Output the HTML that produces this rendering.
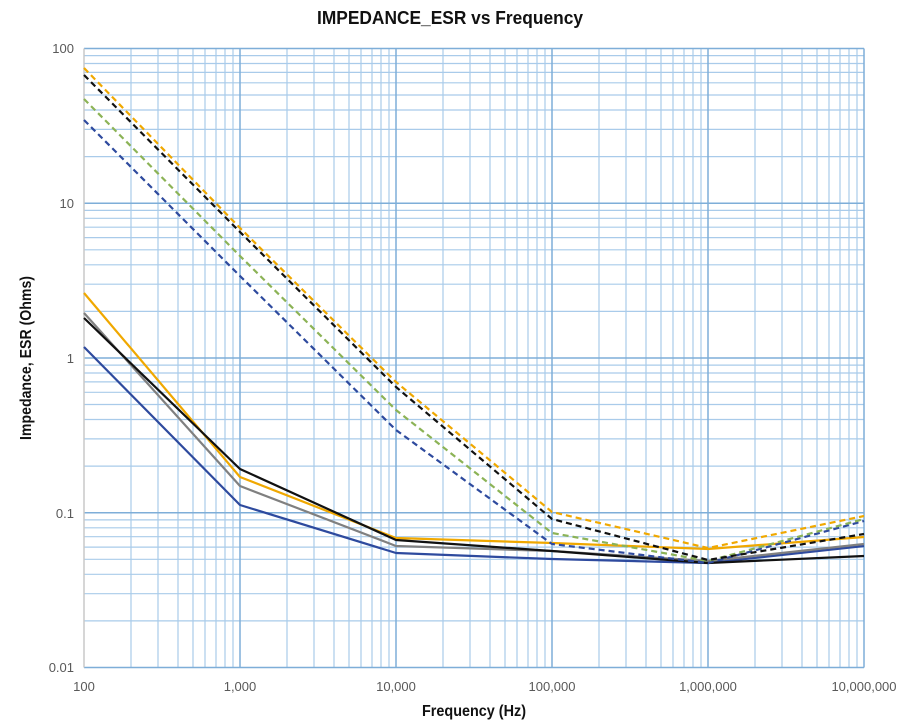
<!DOCTYPE html>
<html><head><meta charset="utf-8"><style>
body{margin:0;background:#fff;}
svg{display:block;font-family:"Liberation Sans",sans-serif;}
</style></head><body>
<svg width="900" height="726" viewBox="0 0 900 726" xmlns="http://www.w3.org/2000/svg">
<text x="450" y="24" text-anchor="middle" font-size="18" font-weight="bold" fill="#111" textLength="266" lengthAdjust="spacingAndGlyphs">IMPEDANCE_ESR vs Frequency</text>
<g stroke="#a9cbea" stroke-width="1.2">
<path d="M131 48.5V667.5M158 48.5V667.5M178 48.5V667.5M193 48.5V667.5M205 48.5V667.5M216 48.5V667.5M225 48.5V667.5M233 48.5V667.5
M287 48.5V667.5M314 48.5V667.5M334 48.5V667.5M349 48.5V667.5M361 48.5V667.5M372 48.5V667.5M381 48.5V667.5M389 48.5V667.5
M443 48.5V667.5M470 48.5V667.5M490 48.5V667.5M505 48.5V667.5M517 48.5V667.5M528 48.5V667.5M537 48.5V667.5M545 48.5V667.5
M599 48.5V667.5M626 48.5V667.5M646 48.5V667.5M661 48.5V667.5M673 48.5V667.5M684 48.5V667.5M693 48.5V667.5M701 48.5V667.5
M755 48.5V667.5M782 48.5V667.5M802 48.5V667.5M817 48.5V667.5M829 48.5V667.5M840 48.5V667.5M849 48.5V667.5M857 48.5V667.5"/>
<path d="M84 620.9H864M84 593.7H864M84 574.3H864M84 559.3H864M84 547.1H864M84 536.7H864M84 527.8H864M84 519.9H864
M84 466.1H864M84 438.9H864M84 419.5H864M84 404.5H864M84 392.3H864M84 381.9H864M84 373H864M84 365.1H864
M84 311.4H864M84 284.2H864M84 264.8H864M84 249.8H864M84 237.6H864M84 227.2H864M84 218.3H864M84 210.4H864
M84 156.6H864M84 129.4H864M84 110H864M84 95H864M84 82.8H864M84 72.4H864M84 63.5H864M84 55.6H864"/>
</g>
<g stroke="#7eaed8" stroke-width="1.5">
<path d="M84 48.5H864M84 203.25H864M84 358H864M84 512.75H864M84 667.5H864M240 48.5V667.5M396 48.5V667.5M552 48.5V667.5M708 48.5V667.5M864 48.5V667.5"/>
</g>
<path d="M84 48.5V667.5" stroke="#c8c8c8" stroke-width="1.5"/>
<g font-size="13" fill="#595959" text-anchor="end">
<text x="74" y="53">100</text><text x="74" y="208">10</text><text x="74" y="363">1</text><text x="74" y="518">0.1</text><text x="74" y="672">0.01</text>
</g>
<g font-size="13" fill="#595959" text-anchor="middle">
<text x="84" y="691">100</text><text x="240" y="691">1,000</text><text x="396" y="691">10,000</text><text x="552" y="691">100,000</text><text x="708" y="691">1,000,000</text><text x="864" y="691">10,000,000</text>
</g>
<text x="474" y="716" text-anchor="middle" font-size="16" font-weight="bold" fill="#111" textLength="104" lengthAdjust="spacingAndGlyphs">Frequency (Hz)</text>
<text transform="translate(31,358) rotate(-90)" text-anchor="middle" font-size="16" font-weight="bold" fill="#111" textLength="164" lengthAdjust="spacingAndGlyphs">Impedance, ESR (Ohms)</text>
<g fill="none" stroke-width="2.2" stroke-linejoin="round">
<polyline stroke="#2e4a9e" points="84,347 240,505 396,553 552,559 708,563 864,546"/>
<polyline stroke="#808080" points="84,313 240,486 396,546 552,551 708,561 864,544"/>
<polyline stroke="#f0a800" points="84,293 240,477 396,538 552,543 708,549 864,537"/>
<polyline stroke="#111" points="84,318 240,469 396,540 552,551 708,563 864,556"/>
</g>
<g fill="none" stroke-width="2.2" stroke-dasharray="6,4">
<polyline stroke="#2e4a9e" points="84,120 240,276 396,430 552,544 708,563 864,521"/>
<polyline stroke="#8cb356" points="84,99 240,256 396,410 552,533 708,561 864,519"/>
<polyline stroke="#111" points="84,75 240,232 396,387 552,519 708,560 864,534"/>
<polyline stroke="#f0a800" points="84,68 240,228 396,382 552,512 708,548 864,516"/>
</g>
</svg>
</body></html>
